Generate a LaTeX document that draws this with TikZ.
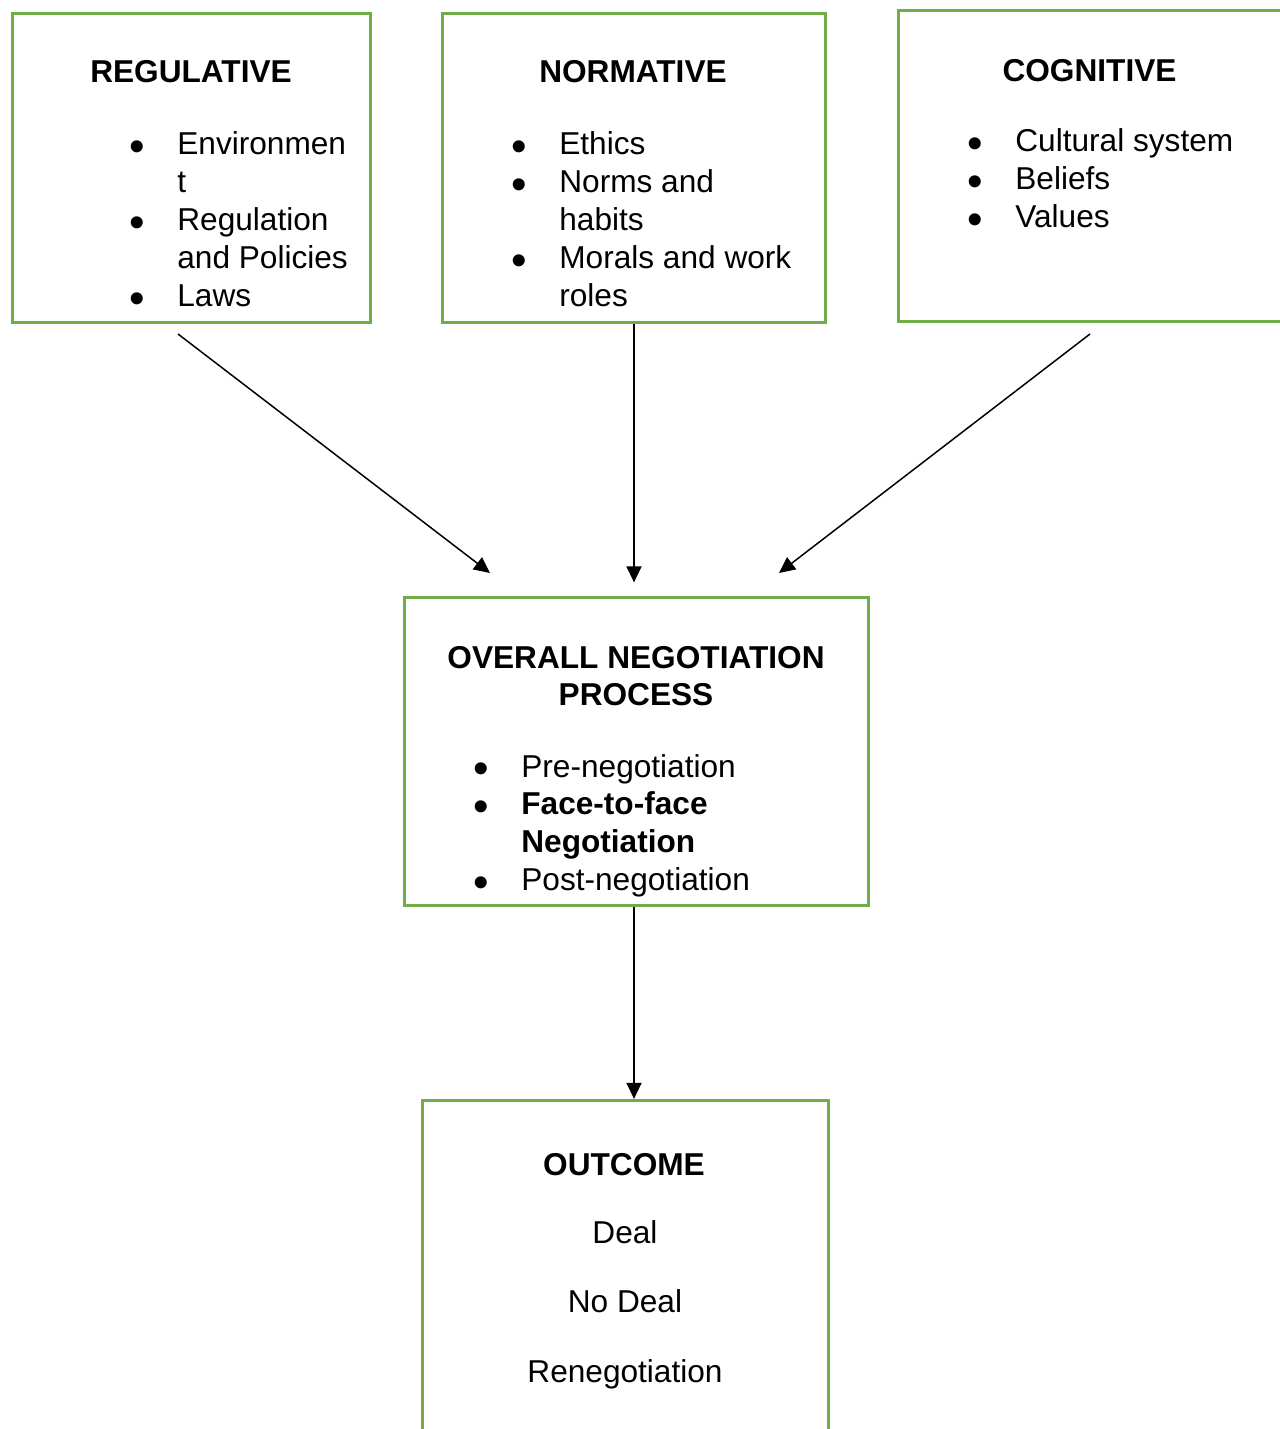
\documentclass[tikz,border=0pt]{standalone}
\usepackage{fontspec}
\setmainfont{Liberation Sans}
\usepackage{array}
\usepackage{graphicx}
\usepackage{xcolor}
\definecolor{panelGreen}{HTML}{70AD47}
\usepackage{tikz}
\usetikzlibrary{
    arrows.meta,
    calc
}
\newcommand{\diagfont}{\fontsize{18}{21.6}\selectfont}
\newcommand{\blt}{\smash{\raisebox{-0.2em}{\scalebox{1.4}{\textbullet}}}}
\newcommand{\itemrows}[1]{\begin{tabular}[t]{@{}p{0.96cm}@{}l@{}}#1\end{tabular}}
\tikzset{
    % Green framed panels
    panel/.style={
        rectangle,
        draw=panelGreen,
        line width=1.9pt,
        inner sep=0pt,
        minimum height=6.18cm,
    },
    % Bold panel headings
    heading/.style={
        font=\diagfont\bfseries,
        anchor=base,
        inner sep=0pt,
    },
    % Bullet lists, anchored at the first baseline
    bullets/.style={
        font=\diagfont,
        anchor=base west,
        inner sep=0pt,
    },
    % Plain outcome entries
    entry/.style={
        font=\diagfont,
        anchor=base,
        inner sep=0pt,
    },
    % Black connector arrows
    arrow/.style={
        -{Triangle[length=0.32cm, width=0.3cm]},
        line width=0.85pt,
        draw=black,
    },
}

\begin{document}
\begin{tikzpicture}[x=0.02cm, y=-0.02cm]
    \useasboundingbox (0,0) rectangle (1280,1429);

    % panels
    \node (reg) [panel, minimum width=7.16cm] at (191.5,168) {};
    \node (norm) [panel, minimum width=7.66cm] at (634,168) {};
    \node (cog) [panel, minimum width=7.70cm, minimum height=6.22cm] at (1091,166) {};
    \node (overall) [panel, minimum width=9.28cm, minimum height=6.16cm] at (636.5,751.5) {};
    \node (outcome) [panel, minimum width=8.12cm, minimum height=6.86cm] at (625.5,1272) {};

    % headings
    \node (regtitle) [heading] at (191,83) {REGULATIVE};
    \node (normtitle) [heading] at (633,83) {NORMATIVE};
    \node (cogtitle) [heading] at (1089.5,81.5) {COGNITIVE};
    \node (overalltitle) [heading] at (636,668) {\begin{tabular}[t]{@{}c@{}}OVERALL NEGOTIATION\\PROCESS\end{tabular}};
    \node (outcometitle) [heading] at (624,1175) {OUTCOME};

    % lists
    \node (reglist) [bullets] at (129,155) {\itemrows{\blt & Environmen\\ & t\\ \blt & Regulation\\ & and Policies\\ \blt & Laws}};
    \node (normlist) [bullets] at (511,155) {\itemrows{\blt & Ethics\\ \blt & Norms and\\ & habits\\ \blt & Morals and work\\ & roles}};
    \node (coglist) [bullets] at (967,152) {\itemrows{\blt & Cultural system\\ \blt & Beliefs\\ \blt & Values}};
    \node (overalllist) [bullets] at (473,777) {\itemrows{\blt & Pre-negotiation\\ \blt & \textbf{Face-to-face}\\ & \textbf{Negotiation}\\ \blt & Post-negotiation}};

    \node (deal) [entry] at (625,1243) {Deal};
    \node (nodeal) [entry] at (625,1312) {No Deal};
    \node (reneg) [entry] at (625,1382) {Renegotiation};

    % arrows
    \coordinate (regtail) at (178,334);
    \coordinate (reghead) at (490,573);
    \coordinate (cogtail) at (1090,334);
    \coordinate (coghead) at (779,573);

    \draw [arrow] (regtail) -- (reghead);
    \draw [arrow] (norm.south) -- ([yshift=0.27cm]norm.south |- overall.north);
    \draw [arrow] (cogtail) -- (coghead);
    \draw [arrow] (norm.south |- overall.south) -- (norm.south |- outcome.north);
\end{tikzpicture}
\end{document}
